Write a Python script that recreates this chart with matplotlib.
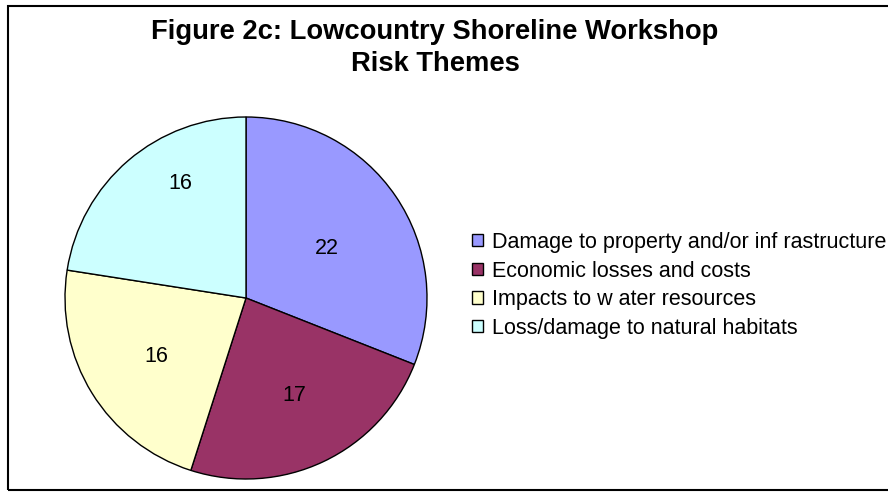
import numpy as np
import matplotlib.pyplot as plt
from matplotlib.patches import Rectangle

plt.rcParams['font.family'] = ['Liberation Sans', 'DejaVu Sans']

labels = ['Damage to property and/or inf rastructure', 'Economic losses and costs',
          'Impacts to w ater resources', 'Loss/damage to natural habitats']
values = [22, 17, 16, 16]
colors = ['#9999FF', '#993366', '#FFFFCC', '#CCFFFF']
title = 'Figure 2c: Lowcountry Shoreline Workshop\nRisk Themes'

W, H = 888, 492
fig = plt.figure(figsize=(W / 100, H / 100), dpi=100)

# pie axes: centre (246, 298) px, radius 181 px
cx, cy, r = 246, 298, 181
ax = fig.add_axes([(cx - r) / W, (H - cy - r) / H, 2 * r / W, 2 * r / H])
wedges, texts = ax.pie(values, colors=colors, startangle=90, counterclock=False,
                       wedgeprops=dict(edgecolor='black', linewidth=1.0),
                       labels=[str(v) for v in values], labeldistance=0.55,
                       textprops=dict(fontsize=15.5))
for t in texts:
    t.set_ha('center')
    t.set_va('center')
# Excel-style label nudges
label_pos = [(0.445, 0.275), (0.265, -0.54), (-0.495, -0.325), (-0.365, 0.63)]
for t, p in zip(texts, label_pos):
    t.set_position(p)
ax.set_xlim(-1, 1)
ax.set_ylim(-1, 1)
ax.set_aspect('equal')
ax.axis('off')

fig.text(435 / W, 1 - 48 / H, title, ha='center', va='center',
         fontsize=19.7, fontweight='bold', linespacing=1.28)

leg = fig.legend(wedges, labels, loc='upper left', bbox_to_anchor=(472 / W, 1 - 232 / H),
                 frameon=False, fontsize=15.5, handlelength=0.5, handleheight=0.5,
                 handletextpad=0.45, labelspacing=0.35, borderaxespad=0, borderpad=0)

fig.patches.append(Rectangle((8 / W, 2 / H), 1.0, 484 / H, transform=fig.transFigure,
                             fill=False, edgecolor='black', linewidth=1.5))

fig.savefig('out.png', dpi=100)
